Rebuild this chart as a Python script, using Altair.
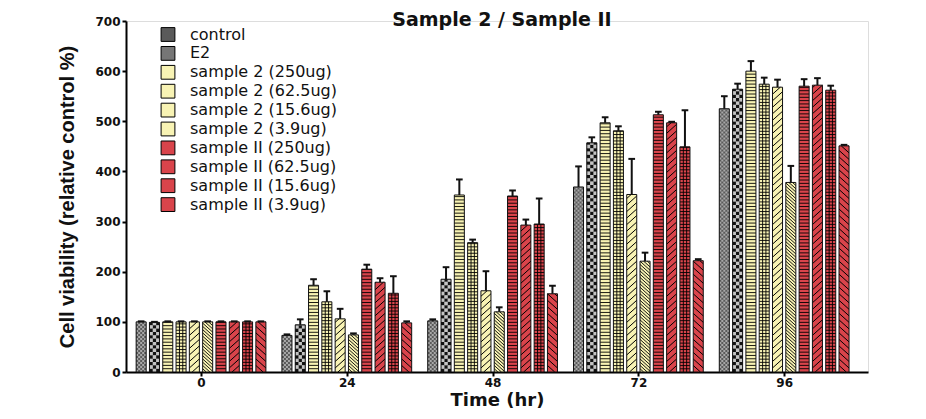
import altair as alt
import pandas as pd

# ---- data ----
times = [0, 24, 48, 72, 96]
series = [
    "control", "E2",
    "sample 2 (250ug)", "sample 2 (62.5ug)", "sample 2 (15.6ug)", "sample 2 (3.9ug)",
    "sample II (250ug)", "sample II (62.5ug)", "sample II (15.6ug)", "sample II (3.9ug)",
]
control = [100, 73, 102, 369, 525]
e2 = [99, 94, 185, 457, 564]
s2_250 = [100, 173, 353, 497, 600]
s2_62 = [100, 140, 258, 481, 574]
s2_15 = [100, 106, 162, 354, 568]
s2_3 = [100, 74, 120, 221, 378]
sII_250 = [100, 205, 351, 513, 570]
sII_62 = [100, 179, 293, 497, 572]
sII_15 = [100, 157, 295, 449, 562]
sII_3 = [100, 98, 156, 222, 451]

control_err = [1, 2, 3, 41, 25]
e2_err = [1, 11, 24, 11, 11]
s2_250_err = [1, 12, 31, 11, 20]
s2_62_err = [1, 21, 6, 9, 13]
s2_15_err = [1, 20, 39, 71, 15]
s2_3_err = [1, 3, 9, 17, 33]
sII_250_err = [1, 9, 11, 6, 14]
sII_62_err = [1, 8, 11, 2, 14]
sII_15_err = [1, 34, 51, 73, 9]
sII_3_err = [1, 3, 16, 3, 2]

colors = ["#5a5a5a", "#767676",
          "#f8f3b4", "#f8f3b4", "#f8f3b4", "#f8f3b4",
          "#d9444b", "#d9444b", "#d9444b", "#d9444b"]

values = [control, e2, s2_250, s2_62, s2_15, s2_3, sII_250, sII_62, sII_15, sII_3]
errors = [control_err, e2_err, s2_250_err, s2_62_err, s2_15_err, s2_3_err,
          sII_250_err, sII_62_err, sII_15_err, sII_3_err]

rows = []
for i, (name, vals, errs) in enumerate(zip(series, values, errors)):
    for t, v, e in zip(times, vals, errs):
        rows.append({"time": t, "series": name, "idx": i, "value": v, "err": e})
df = pd.DataFrame(rows)

# ---- layout constants ----
W, H = 742, 351
XD = [-12.35, 109.8]
STEP = 2.19          # bar step in x units
BW = 1.65            # bar width in x units
PXU = W / (XD[1] - XD[0])
BWPX = BW * PXU

TXT = "#111111"
xscale = alt.Scale(domain=XD, nice=False, zero=False)
yscale = alt.Scale(domain=[0, 700], nice=False)
xaxis = alt.Axis(values=times, title="Time (hr)", grid=False, format="d",
                 labelFont="DejaVu Sans", labelFontWeight="bold", labelFontSize=12,
                 labelColor=TXT, labelPadding=1, tickSize=4, tickWidth=2, tickColor="black",
                 domainColor="black", domainWidth=2,
                 titleFont="DejaVu Sans", titleFontWeight="bold", titleFontSize=18,
                 titleColor=TXT, titleX=W / 2, titleY=28, titleBaseline="middle",
                 titleAlign="center")
yaxis = alt.Axis(values=list(range(0, 701, 100)), title="Cell viability (relative control %)",
                 grid=False, labelFont="DejaVu Sans", labelFontWeight="bold", labelFontSize=12,
                 labelColor=TXT, labelPadding=2, tickSize=4, tickWidth=2, tickColor="black",
                 domainColor="black", domainWidth=2,
                 titleFont="Liberation Sans", titleFontWeight="bold", titleFontSize=20,
                 titleColor=TXT, titleX=-59, titleY=H / 2, titleAngle=270,
                 titleBaseline="middle", titleAlign="center")


def X(f):
    return alt.X(f"{f}:Q", scale=xscale, axis=xaxis)


def Y(f):
    return alt.Y(f"{f}:Q", scale=yscale, axis=yaxis)


base = (alt.Chart(df)
        .transform_calculate(xc=f"datum.time + (datum.idx - 4.5) * {STEP}")
        .transform_calculate(xl=f"datum.xc - {BW / 2}")
        .transform_calculate(xr=f"datum.xc + {BW / 2}")
        .transform_calculate(top="datum.value + datum.err")
        .transform_calculate(z="0"))


def only(names):
    return base.transform_filter(alt.FieldOneOfPredicate(field="series", oneOf=names))


bars = base.mark_rect().encode(
    x=X("xl"), x2="xr:Q", y=Y("value"), y2="z:Q",
    fill=alt.Fill("series:N", scale=alt.Scale(domain=series, range=colors),
                  legend=alt.Legend(orient="none", legendX=34, legendY=5.5, title=None,
                                    symbolType="square", symbolSize=190,
                                    symbolStrokeColor="black", symbolStrokeWidth=1,
                                    labelFont="DejaVu Sans", labelFontSize=16,
                                    labelColor=TXT, labelOffset=14, rowPadding=0.9,
                                    padding=0)),
)


def hstripes(names, spacing, width=0.9):
    return (only(names)
            .transform_calculate(ys=f"sequence({spacing}, datum.value, {spacing})")
            .transform_flatten(["ys"])
            .mark_rule(color="black", strokeWidth=width)
            .encode(x=X("xl"), x2="xr:Q", y=Y("ys")))


def vlines(names, fracs, width=0.9):
    return (only(names)
            .transform_calculate(fr=str(fracs))
            .transform_flatten(["fr"])
            .transform_calculate(xv=f"datum.xl + datum.fr * {BW}")
            .mark_rule(color="black", strokeWidth=width)
            .encode(x=X("xv"), y=Y("z"), y2="value:Q"))


def diag(names, spacing, rise, slash=True, width=1.0):
    c = (only(names)
         .transform_calculate(y0=f"sequence({-rise}, datum.value, {spacing})")
         .transform_flatten(["y0"])
         .transform_calculate(ya="max(datum.y0, 0)")
         .transform_calculate(yb=f"min(datum.y0 + {rise}, datum.value)")
         .transform_filter("datum.ya < datum.yb"))
    if slash:
        c = (c.transform_calculate(xa=f"datum.xl + (datum.ya - datum.y0) / {rise} * {BW}")
              .transform_calculate(xb=f"datum.xl + (datum.yb - datum.y0) / {rise} * {BW}"))
    else:
        c = (c.transform_calculate(xa=f"datum.xr - (datum.ya - datum.y0) / {rise} * {BW}")
              .transform_calculate(xb=f"datum.xr - (datum.yb - datum.y0) / {rise} * {BW}"))
    return c.mark_rule(color="black", strokeWidth=width).encode(
        x=X("xa"), x2="xb:Q", y=Y("ya"), y2="yb:Q")


def checker(name, ncols, cols, color, offset):
    cw = BWPX / ncols
    return (only([name])
            .transform_calculate(k=str(cols))
            .transform_flatten(["k"])
            .transform_calculate(xv=f"datum.xl + (datum.k + 0.5) / {ncols} * {BW}")
            .mark_rule(color=color, strokeWidth=cw, strokeDash=[cw, cw],
                       strokeDashOffset=offset, strokeCap="butt")
            .encode(x=X("xv"), y=Y("z"), y2="value:Q"))


cw_c = BWPX / 5
cw_e = BWPX / 3
layers = [
    bars,
    # control: fine checker
    checker("control", 5, [0, 2, 4], "#a8a8a8", 0),
    checker("control", 5, [1, 3], "#a8a8a8", cw_c),
    # E2: coarse checker
    checker("E2", 3, [0, 2], "#111111", 0),
    checker("E2", 3, [1], "#111111", cw_e),
    checker("E2", 3, [0, 2], "#c4c4c4", cw_e),
    checker("E2", 3, [1], "#c4c4c4", 0),
    # horizontal stripes / grids
    hstripes(["sample 2 (250ug)", "sample II (250ug)"], 6.6),
    hstripes(["sample 2 (62.5ug)", "sample II (15.6ug)"], 6.4),
    vlines(["sample 2 (62.5ug)", "sample II (15.6ug)"], [0.34, 0.67]),
    # diagonal hatches
    diag(["sample 2 (15.6ug)", "sample II (62.5ug)"], 13, 18, slash=True),
    diag(["sample II (3.9ug)"], 13, 18, slash=False),
    diag(["sample 2 (3.9ug)"], 6.5, 18, slash=False, width=0.9),
    # outlines
    base.mark_rect(fill="transparent", stroke="#111111", strokeWidth=1).encode(
        x=X("xl"), x2="xr:Q", y=Y("value"), y2="z:Q"),
    # error bars
    base.mark_rule(color="#111111", strokeWidth=2).encode(
        x=X("xc"), y=Y("value"), y2="top:Q"),
    base.transform_calculate(cl="datum.xc - 0.55").transform_calculate(cr="datum.xc + 0.55")
        .mark_rule(color="#111111", strokeWidth=2).encode(x=X("cl"), x2="cr:Q", y=Y("top")),
]

chart = (alt.layer(*layers)
         .properties(width=W, height=H,
                     autosize=alt.AutoSizeParams(type="none"),
                     padding={"left": 118, "top": 13, "right": 50, "bottom": 39},
                     title=alt.TitleParams("Sample 2 / Sample II", font="DejaVu Sans",
                                           fontSize=19, fontWeight="bold", color=TXT,
                                           anchor="middle", offset=-15, dx=5))
         .configure_view(stroke=None)
         .configure(background="white"))

chart.save("out.html", embed_options={"renderer": "svg", "actions": False})
